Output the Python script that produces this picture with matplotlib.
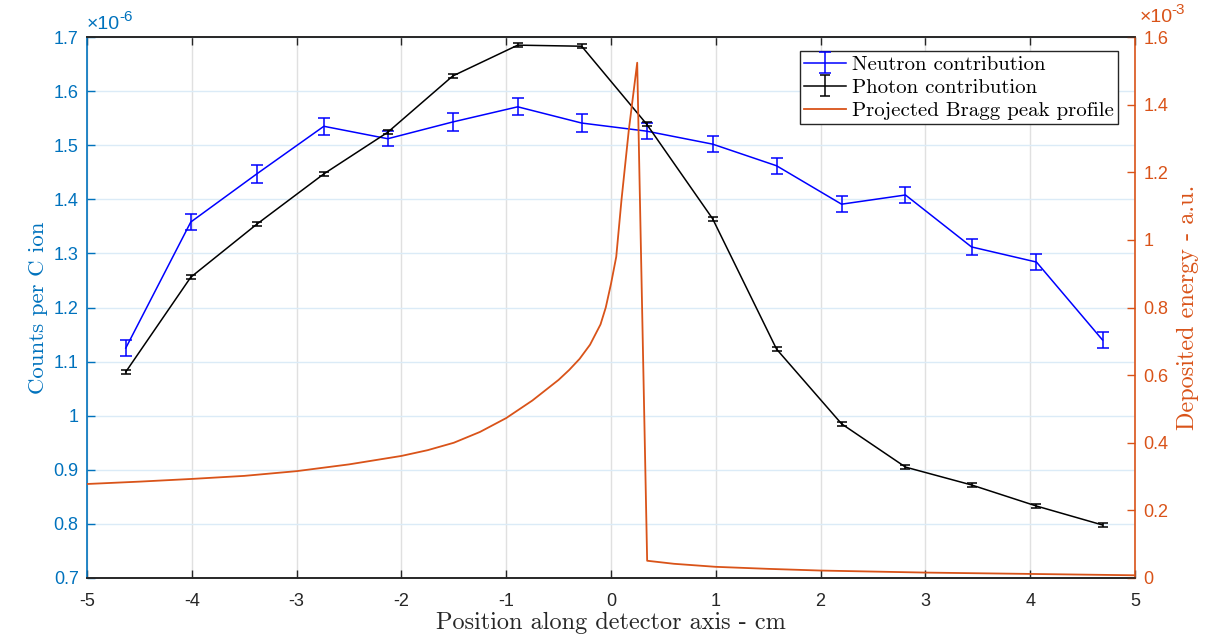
import matplotlib
matplotlib.use("Agg")
import matplotlib.pyplot as plt
from matplotlib.ticker import FuncFormatter, MultipleLocator
from matplotlib.transforms import offset_copy

# ---- data ----
positions = [-4.63, -4.01, -3.38, -2.74, -2.13, -1.51, -0.89, -0.28,
             0.34, 0.97, 1.58, 2.20, 2.81, 3.44, 4.06, 4.69]
# counts per C ion, in units of 1e-6
neutron = [1.125, 1.358, 1.447, 1.535, 1.512, 1.543, 1.571, 1.541,
           1.526, 1.502, 1.462, 1.391, 1.408, 1.312, 1.284, 1.140]
neutron_err = [0.015, 0.015, 0.016, 0.016, 0.014, 0.016, 0.016, 0.016,
               0.015, 0.015, 0.015, 0.015, 0.015, 0.015, 0.015, 0.015]
photon = [1.081, 1.256, 1.354, 1.447, 1.524, 1.628, 1.685, 1.683,
          1.539, 1.364, 1.123, 0.985, 0.905, 0.872, 0.833, 0.798]
photon_err = [0.004] * 16

# Bragg peak profile, deposited energy in units of 1e-3
bragg_x = [-5.0, -4.5, -4.0, -3.5, -3.0, -2.5, -2.0, -1.75, -1.5, -1.25,
           -1.0, -0.75, -0.5, -0.4, -0.3, -0.2, -0.1, -0.05, 0.0, 0.05,
           0.10, 0.17, 0.25, 0.345, 0.6, 1.0, 1.5, 2.0, 2.5, 3.0,
           3.5, 4.0, 4.5, 5.0]
bragg_y = [0.278, 0.285, 0.293, 0.302, 0.316, 0.336, 0.361, 0.378, 0.400, 0.432,
           0.473, 0.525, 0.586, 0.615, 0.648, 0.690, 0.750, 0.800, 0.870, 0.950,
           1.118, 1.325, 1.524, 0.051, 0.042, 0.033, 0.027, 0.022, 0.019, 0.016,
           0.014, 0.012, 0.010, 0.008]

xticks = [-5, -4, -3, -2, -1, 0, 1, 2, 3, 4, 5]

BLUE_AX = (0.0, 0.447, 0.741)
ORANGE = (0.85, 0.325, 0.098)
DARK = (0.15, 0.15, 0.15)

plt.rcParams['font.family'] = ['Liberation Sans', 'DejaVu Sans']

serif = ['cmr10', 'DejaVu Serif']

fig = plt.figure(figsize=(12.22, 6.44), dpi=100)
ax = fig.add_axes([0.0712, 0.1025, 0.8576, 0.84])
ax2 = ax.twinx()

# left axis series
ax.errorbar(positions, neutron, yerr=neutron_err, color=(0, 0, 1), lw=1.1,
            capsize=4, elinewidth=1.1, capthick=1.1, label='Neutron contribution', zorder=3)
ax.errorbar(positions, photon, yerr=photon_err, color='black', lw=1.1,
            capsize=3.5, elinewidth=1.1, capthick=1.1, label='Photon contribution', zorder=3)

# right axis series
ln, = ax2.plot(bragg_x, bragg_y, color=ORANGE, lw=1.3, label='Projected Bragg peak profile')

ax.set_xlim(-5, 5)
ax.set_ylim(0.7, 1.7)
ax2.set_ylim(0, 1.6)
ax.set_xticks(xticks)
ax.yaxis.set_major_locator(MultipleLocator(0.1))
ax2.yaxis.set_major_locator(MultipleLocator(0.2))
fmt = FuncFormatter(lambda v, p: '%g' % round(v, 6))
ax.xaxis.set_major_formatter(fmt)
ax.yaxis.set_major_formatter(fmt)
ax2.yaxis.set_major_formatter(fmt)

# grid
ax.grid(axis='x', color=(0.88, 0.88, 0.88), lw=1.0)
ax.grid(axis='y', color=(0.86, 0.92, 0.97), lw=1.0)
ax.set_axisbelow(True)

# spines
for a in (ax, ax2):
    a.spines['top'].set_color(DARK)
    a.spines['bottom'].set_color(DARK)
    a.spines['top'].set_linewidth(1.2)
    a.spines['bottom'].set_linewidth(1.2)
ax.spines['left'].set_color(BLUE_AX)
ax.spines['left'].set_linewidth(1.2)
ax.spines['right'].set_visible(False)
ax2.spines['left'].set_visible(False)
ax2.spines['right'].set_color(ORANGE)
ax2.spines['right'].set_linewidth(1.2)

ax.tick_params(axis='x', direction='in', top=True, length=6, width=1.0,
               colors=DARK, labelsize=13, pad=11)
ax.tick_params(axis='y', direction='in', left=True, right=False, length=6, width=1.0,
               colors=BLUE_AX, labelsize=13, pad=6)
ax2.tick_params(axis='y', direction='in', right=True, left=False, length=6, width=1.0,
                colors=ORANGE, labelsize=13, pad=6)

ax.set_xlabel('Position along detector axis - cm', family=serif, fontsize=17.5,
              color=DARK, labelpad=1)
ax.set_ylabel('Counts per C ion', family=serif, fontsize=16.5, color=BLUE_AX, labelpad=4)
ax2.set_ylabel('Deposited energy - a.u.', family=serif, fontsize=17.5, color=ORANGE, labelpad=6)

# exponent labels
ax.text(0.0, 1.008, '\u00d710', transform=ax.transAxes,
        color=BLUE_AX, fontsize=14, ha='left', va='bottom')
ax.text(0.0, 1.008, '-6', color=BLUE_AX, fontsize=11, ha='left', va='bottom',
        transform=offset_copy(ax.transAxes, fig=fig, x=32, y=9, units='dots'))
ax2.text(1.004, 1.02, '\u00d710', transform=ax2.transAxes,
         color=ORANGE, fontsize=14, ha='left', va='bottom')
ax2.text(1.004, 1.02, '-3', color=ORANGE, fontsize=11, ha='left', va='bottom',
         transform=offset_copy(ax2.transAxes, fig=fig, x=32, y=9, units='dots'))

h1, l1 = ax.get_legend_handles_labels()
leg = ax2.legend(h1 + [ln], l1 + ['Projected Bragg peak profile'], loc='upper right',
                 bbox_to_anchor=(0.9837, 0.974), prop={'family': serif, 'size': 15},
                 frameon=True, fancybox=False, edgecolor=DARK, framealpha=1,
                 borderpad=0.2, labelspacing=0.22, handlelength=2.0, handletextpad=0.3,
                 borderaxespad=0)
leg.get_frame().set_linewidth(1.0)

fig.savefig('out.png', dpi=100, facecolor='white')
